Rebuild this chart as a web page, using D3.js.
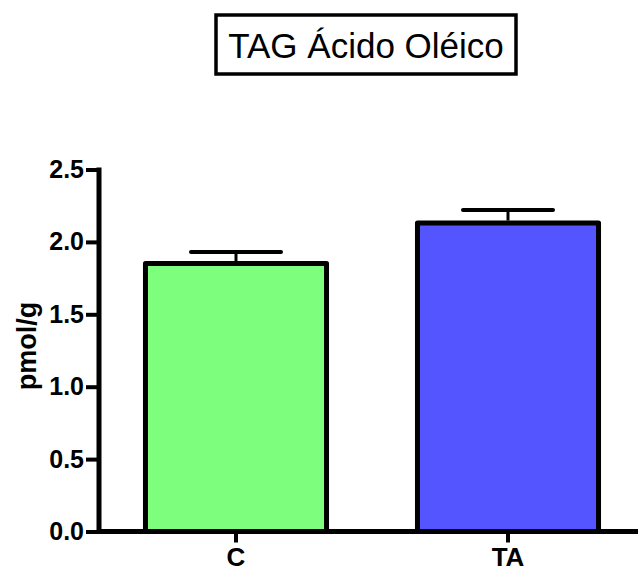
<!DOCTYPE html>
<html><head><meta charset="utf-8">
<script src="https://cdn.jsdelivr.net/npm/d3@7"></script>
<style>body{margin:0;background:#fff}svg{display:block}</style>
</head><body>
<svg id="chart" width="639" height="571"></svg>
<script>
const categories = ["C", "TA"];
const means = [1.85, 2.13];
const errors = [0.08, 0.09];
const yTicks = [0.0, 0.5, 1.0, 1.5, 2.0, 2.5];
const title = "TAG Ácido Oléico";
const yLabel = "pmol/g";
const fills = ["#7dff7d", "#5555ff"];

const svg = d3.select("#chart");

const y = d3.scaleLinear().domain([0, 2.5]).range([531.5, 169.5]);
const x = d3.scaleBand().domain(categories).range([100, 644]).paddingInner(0.316).paddingOuter(0.158);
const font = "Arial, 'Liberation Sans', Helvetica, sans-serif";

// Title box
svg.append("rect").attr("x",216).attr("y",15).attr("width",300).attr("height",59)
  .attr("fill","#fff").attr("stroke","#000").attr("stroke-width",3.5);
svg.append("text").attr("x",366).attr("y",58).attr("text-anchor","middle")
  .attr("font-family",font).attr("font-size",35).attr("fill","#000").text(title);

// Bars
const sw = 5;
svg.selectAll("rect.bar").data(categories).enter().append("rect").attr("class","bar")
  .attr("x", d => x(d) + sw/2)
  .attr("width", x.bandwidth() - sw)
  .attr("y", (d,i) => y(means[i]))
  .attr("height", (d,i) => y(0) - y(means[i]))
  .attr("fill", (d,i) => fills[i])
  .attr("stroke","#000").attr("stroke-width",sw).attr("stroke-linejoin","round");

// Error bars
categories.forEach((c,i) => {
  const cx = x(c) + x.bandwidth()/2;
  svg.append("line").attr("x1",cx).attr("x2",cx).attr("y1",y(means[i]) - sw/2).attr("y2",y(means[i]+errors[i]))
    .attr("stroke","#000").attr("stroke-width",3);
  svg.append("line").attr("x1",cx-45).attr("x2",cx+45).attr("y1",y(means[i]+errors[i])).attr("y2",y(means[i]+errors[i]))
    .attr("stroke","#000").attr("stroke-width",4).attr("stroke-linecap","round");
});

// Y axis
const yAxis = svg.append("g").attr("transform","translate(99,0)")
  .call(d3.axisLeft(y).tickValues(yTicks).tickFormat(d3.format(".1f")).tickSize(13).tickPadding(2));
yAxis.select(".domain").remove();
yAxis.selectAll(".tick line").attr("stroke","#000").attr("stroke-width",4);
yAxis.selectAll(".tick text").attr("font-family",font).attr("font-size",25).attr("font-weight","bold").attr("fill","#000");
svg.append("line").attr("x1",99).attr("x2",99).attr("y1",y(2.5)-2).attr("y2",y(0)+2.5)
  .attr("stroke","#000").attr("stroke-width",5);

// X axis
const xAxis = svg.append("g").attr("transform",`translate(0,${y(0)})`)
  .call(d3.axisBottom(x).tickSize(11).tickPadding(5));
xAxis.select(".domain").remove();
xAxis.selectAll(".tick line").attr("stroke","#000").attr("stroke-width",4);
xAxis.selectAll(".tick text").attr("font-family",font).attr("font-size",26).attr("font-weight","bold").attr("fill","#000");
svg.append("line").attr("x1",97).attr("x2",638).attr("y1",y(0)).attr("y2",y(0))
  .attr("stroke","#000").attr("stroke-width",5);

// Y label
svg.append("text").attr("transform","translate(36,346) rotate(-90)").attr("text-anchor","middle")
  .attr("font-family",font).attr("font-size",27).attr("font-weight","bold").attr("fill","#000").text(yLabel);
</script>
</body></html>
